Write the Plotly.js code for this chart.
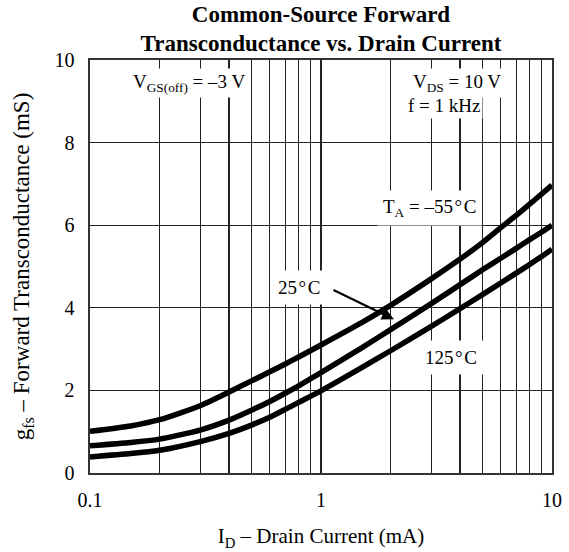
<!DOCTYPE html>
<html>
<head>
<meta charset="utf-8">
<script src="https://cdn.plot.ly/plotly-3.0.1.min.js"></script>
<style>html,body{margin:0;padding:0;background:#fff;}#chart{width:569px;height:552px;}</style>
</head>
<body>
<div id="chart"></div>
<script>
// Drain current (mA)
const drainCurrent = [0.1, 0.15, 0.2, 0.3, 0.4, 0.5, 0.6, 0.7, 0.8, 1, 1.5, 2, 3, 4, 5, 6, 7, 8, 9, 10];
// Forward transconductance (mS) per ambient temperature
const gfsMinus55 = [1.01, 1.14, 1.29, 1.63, 1.96, 2.23, 2.45, 2.64, 2.81, 3.10, 3.64, 4.06, 4.70, 5.18, 5.58, 5.94, 6.24, 6.51, 6.75, 6.97];
const gfs25      = [0.66, 0.74, 0.82, 1.04, 1.28, 1.52, 1.73, 1.93, 2.11, 2.43, 3.03, 3.47, 4.10, 4.56, 4.92, 5.20, 5.44, 5.65, 5.83, 6.00];
const gfs125     = [0.39, 0.47, 0.55, 0.76, 0.96, 1.16, 1.35, 1.54, 1.71, 1.99, 2.55, 2.96, 3.55, 3.98, 4.32, 4.60, 4.84, 5.05, 5.24, 5.42];
const seriesNames = ['T<sub>A</sub> = –55\u200A°\u200AC', '25\u200A°\u200AC', '125\u200A°\u200AC'];
// Axis ticks
const xTickVals = [0.1,0.2,0.3,0.4,0.5,0.6,0.7,0.8,0.9,1,2,3,4,5,6,7,8,9,10];
const xTickText = ['0.1','','','','','','','','','1','','','','','','','','','10'];
const yTickVals = [0, 2, 4, 6, 8, 10];
const yTickText = ['0', '2', '4', '6', '8', '10'];

const FONT = 'Liberation Serif, Times New Roman, serif';
const lineStyle = {color: '#000', width: 5.5, shape: 'spline', smoothing: 0.6};

const traces = [gfsMinus55, gfs25, gfs125].map((ys, i) => ({
  x: drainCurrent, y: ys, type: 'scatter', mode: 'lines',
  name: seriesNames[i], line: lineStyle, hoverinfo: 'skip', cliponaxis: false
}));

const annFont = {family: FONT, size: 19, color: '#000'};
const layout = {
  width: 569, height: 552,
  margin: {l: 90, r: 17, t: 60, b: 79},
  paper_bgcolor: '#fff', plot_bgcolor: '#fff',
  showlegend: false,
  font: {family: FONT, size: 19, color: '#000'},
  title: {
    text: '<b>Common-Source Forward<br>Transconductance vs. Drain Current</b>',
    font: {family: FONT, size: 23, color: '#000'},
    x: 0.5, xref: 'paper', xanchor: 'center',
    y: 0.961, yref: 'container', yanchor: 'top'
  },
  xaxis: {
    type: 'log', range: [-1, 1],
    tickmode: 'array', tickvals: xTickVals, ticktext: xTickText,
    ticks: 'outside', ticklen: 8, tickcolor: 'rgba(0,0,0,0)',
    showgrid: true, gridcolor: '#222', gridwidth: 1.3,
    showline: true, linecolor: '#333', linewidth: 1.6, mirror: true,
    zeroline: false,
    tickfont: {family: FONT, size: 20, color: '#000'},
    title: {text: 'I<sub>D</sub> – Drain Current (mA)', font: {family: FONT, size: 21, color: '#000'}, standoff: 19},
    automargin: false
  },
  yaxis: {
    range: [0, 10],
    tickmode: 'array', tickvals: yTickVals, ticktext: yTickText,
    ticks: 'outside', ticklen: 10, tickcolor: 'rgba(0,0,0,0)',
    showgrid: true, gridcolor: '#222', gridwidth: 1.3,
    showline: true, linecolor: '#333', linewidth: 1.6, mirror: true,
    zeroline: false,
    tickfont: {family: FONT, size: 20, color: '#000'},
    title: {text: '\u2003g<sub>fs</sub> – Forward Transconductance (mS)', font: {family: FONT, size: 23, color: '#000'}, standoff: 18},
    automargin: false
  },
  annotations: [
    {xref: 'paper', yref: 'paper', x: 0.086, y: 0.945, xanchor: 'left', yanchor: 'middle',
     text: 'V<sub>GS(off)</sub> = –3 V', showarrow: false, font: annFont, bgcolor: '#fff', borderpad: 2},
    {xref: 'paper', yref: 'paper', x: 0.682, y: 0.89, xanchor: 'left', yanchor: 'middle',
     text: 'f = 1 kHz', showarrow: false, font: annFont, bgcolor: '#fff', borderpad: 2},
    {xref: 'paper', yref: 'paper', x: 0.692, y: 0.945, xanchor: 'left', yanchor: 'middle',
     text: 'V<sub>DS</sub> = 10 V', showarrow: false, font: annFont, bgcolor: '#fff', borderpad: 2},
    {xref: 'paper', yref: 'paper', x: 0.735, y: 0.641, xanchor: 'center', yanchor: 'middle',
     text: seriesNames[0], showarrow: false, font: annFont, bgcolor: '#fff', borderpad: 5},
    {xref: 'paper', yref: 'paper', x: 0.452, y: 0.448, xanchor: 'center', yanchor: 'middle',
     text: seriesNames[1], showarrow: false, font: annFont, bgcolor: '#fff', borderpad: 6},
    {xref: 'paper', yref: 'paper', x: 0.782, y: 0.279, xanchor: 'center', yanchor: 'middle',
     text: seriesNames[2], showarrow: false, font: annFont, bgcolor: '#fff', borderpad: 6},
    {xref: 'paper', yref: 'paper', x: 0.658, y: 0.372, text: '', showarrow: true,
     arrowhead: 2, arrowsize: 1.1, arrowwidth: 2.2, arrowcolor: '#000', ax: -62, ay: -30, standoff: 0}
  ]
};

Plotly.newPlot('chart', traces, layout, {staticPlot: true, displayModeBar: false});
</script>
</body>
</html>
